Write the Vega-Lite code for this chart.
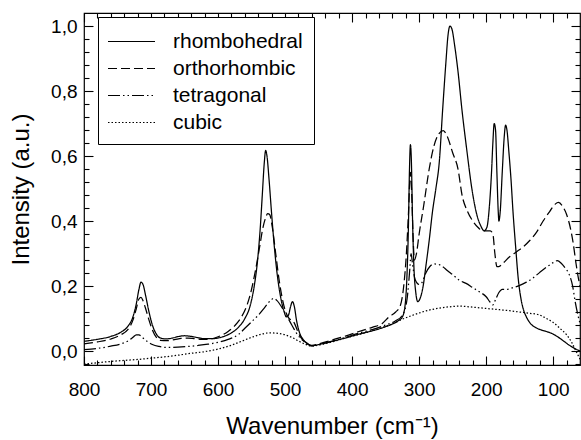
{
 "$schema": "https://vega.github.io/schema/vega-lite/v6.json",
 "width": 496, "height": 352,
 "autosize": {"type": "none"},
 "padding": {"left": 84, "top": 13, "right": 1, "bottom": 75},
 "config": {
  "view": {"stroke": "black", "strokeWidth": 1.2},
  "font": "Liberation Sans",
  "axis": {"domain": false, "grid": false, "tickColor": "black", "tickWidth": 1.1, "labelColor": "black", "labelFontSize": 19, "labelFont": "Liberation Sans", "titleFont": "Liberation Sans", "titleFontSize": 24, "titleFontWeight": "normal", "titleColor": "black", "labelOverlap": false, "labelFlush": false}
 },
 "datasets": {
  "raw": [
   {"p":"rhombohedral","d":[[800,0.030],[780,0.036],[760,0.045],[745,0.058],[735,0.075],[727,0.105],[722,0.145],[718,0.19],[715,0.212],[712,0.205],[708,0.17],[703,0.12],[698,0.08],[692,0.052],[686,0.040],[678,0.037],[668,0.040],[658,0.045],[650,0.047],[640,0.045],[630,0.041],[620,0.038],[610,0.038],[600,0.040],[590,0.046],[580,0.056],[570,0.072],[560,0.10],[552,0.14],[546,0.20],[541,0.28],[537,0.38],[534,0.48],[531,0.58],[529,0.617],[527,0.60],[524,0.53],[520,0.42],[516,0.32],[512,0.24],[507,0.17],[502,0.125],[498,0.105],[495,0.11],[492,0.135],[489,0.152],[486,0.135],[483,0.095],[479,0.06],[474,0.038],[468,0.025],[460,0.016],[450,0.020],[430,0.030],[410,0.040],[390,0.052],[370,0.062],[350,0.075],[340,0.083],[330,0.095],[325,0.105],[321,0.14],[318,0.24],[316,0.38],[314.5,0.55],[313,0.635],[311.5,0.58],[310,0.42],[308,0.27],[305,0.18],[302,0.152],[298,0.165],[294,0.20],[290,0.26],[285,0.34],[280,0.43],[275,0.50],[270,0.58],[265,0.74],[260,0.89],[257,0.97],[254,1.0],[251,0.99],[247,0.94],[242,0.86],[236,0.74],[229,0.62],[221,0.495],[214,0.42],[208,0.385],[203,0.37],[199,0.38],[195,0.45],[192,0.55],[190,0.64],[188,0.70],[186,0.68],[184,0.55],[182,0.43],[181,0.40],[179,0.43],[176,0.55],[173,0.66],[171,0.695],[169,0.68],[166,0.61],[163,0.53],[160,0.43],[156,0.32],[152,0.22],[148,0.16],[144,0.125],[140,0.105],[134,0.085],[126,0.072],[118,0.065],[110,0.060],[100,0.052],[92,0.042],[84,0.030],[76,0.018],[68,0.008],[60,0.0]]},
   {"p":"orthorhombic","d":[[800,0.022],[780,0.028],[760,0.037],[745,0.050],[735,0.065],[727,0.095],[722,0.13],[718,0.16],[715,0.165],[712,0.155],[708,0.13],[703,0.095],[698,0.065],[692,0.042],[686,0.033],[676,0.032],[665,0.035],[655,0.039],[645,0.040],[635,0.038],[625,0.036],[615,0.036],[605,0.040],[595,0.048],[585,0.06],[575,0.078],[565,0.105],[557,0.14],[550,0.19],[544,0.25],[538,0.32],[533,0.38],[529,0.41],[526,0.423],[523,0.42],[519,0.38],[514,0.30],[509,0.22],[504,0.16],[499,0.12],[494,0.10],[490,0.095],[486,0.085],[481,0.06],[476,0.04],[470,0.027],[460,0.017],[450,0.022],[430,0.034],[410,0.046],[390,0.060],[370,0.073],[355,0.085],[345,0.105],[335,0.12],[328,0.14],[323,0.20],[319,0.30],[316,0.42],[313,0.55],[311,0.48],[309,0.35],[307,0.28],[304,0.30],[300,0.36],[293,0.45],[285,0.56],[278,0.63],[270,0.67],[264,0.678],[258,0.66],[250,0.61],[242,0.56],[236,0.48],[228,0.43],[220,0.40],[212,0.38],[205,0.37],[199,0.37],[194,0.37],[190,0.36],[187,0.30],[184,0.26],[181,0.26],[175,0.27],[165,0.29],[155,0.305],[145,0.32],[135,0.34],[125,0.365],[115,0.40],[105,0.43],[97,0.452],[92,0.457],[86,0.445],[80,0.42],[74,0.375],[70,0.33],[66,0.27],[62,0.22],[60,0.20]]},
   {"p":"tetragonal","d":[[800,0.004],[780,0.008],[760,0.015],[745,0.022],[735,0.030],[727,0.042],[722,0.050],[718,0.050],[713,0.042],[706,0.030],[698,0.020],[688,0.014],[675,0.011],[660,0.012],[645,0.014],[630,0.017],[615,0.021],[600,0.027],[585,0.036],[570,0.05],[560,0.07],[550,0.09],[540,0.11],[530,0.135],[522,0.155],[517,0.162],[512,0.155],[505,0.135],[498,0.11],[490,0.08],[483,0.055],[476,0.037],[468,0.025],[460,0.016],[450,0.020],[430,0.030],[410,0.042],[390,0.055],[370,0.066],[350,0.080],[335,0.093],[325,0.11],[318,0.16],[314,0.25],[312,0.30],[310,0.27],[306,0.22],[300,0.205],[296,0.21],[290,0.24],[284,0.26],[278,0.268],[272,0.267],[265,0.26],[258,0.248],[250,0.235],[240,0.218],[230,0.208],[220,0.195],[210,0.182],[200,0.167],[194,0.15],[190,0.142],[186,0.158],[181,0.18],[176,0.19],[168,0.19],[160,0.195],[150,0.202],[140,0.212],[130,0.225],[120,0.242],[110,0.258],[100,0.272],[94,0.278],[88,0.27],[82,0.255],[76,0.235],[71,0.20],[67,0.15],[63,0.11],[60,0.085]]},
   {"p":"cubic","d":[[800,-0.040],[780,-0.036],[760,-0.032],[740,-0.029],[720,-0.026],[700,-0.022],[680,-0.018],[660,-0.013],[640,-0.007],[620,-0.002],[600,0.006],[580,0.018],[565,0.030],[550,0.042],[535,0.052],[522,0.056],[510,0.054],[500,0.050],[490,0.042],[480,0.031],[470,0.021],[460,0.015],[450,0.018],[430,0.028],[410,0.040],[390,0.051],[370,0.062],[350,0.076],[335,0.088],[325,0.098],[315,0.106],[300,0.117],[285,0.126],[270,0.132],[255,0.136],[240,0.138],[225,0.136],[210,0.133],[195,0.130],[180,0.127],[165,0.124],[150,0.120],[135,0.116],[122,0.112],[110,0.10],[100,0.088],[90,0.070],[80,0.050],[72,0.025],[66,0.0],[60,-0.025]]}
  ]
 },
 "data": {"name": "raw"},
 "transform": [
  {"flatten": ["d"]},
  {"calculate": "datum.d[0]", "as": "wn"},
  {"calculate": "datum.d[1]", "as": "I"}
 ],
 "layer": [
  {
   "mark": {"type": "line", "color": "black", "strokeWidth": 1.25, "interpolate": "monotone", "clip": true},
   "encoding": {
    "x": {"field": "wn", "type": "quantitative", "scale": {"domain": [60, 800], "reverse": true, "nice": false, "zero": false},
     "axis": {"orient": "bottom", "title": "Wavenumber (cm⁻¹)", "titlePadding": 11,
      "values": [800,780,760,740,720,700,680,660,640,620,600,580,560,540,520,500,480,460,440,420,400,380,360,340,320,300,280,260,240,220,200,180,160,140,120,100,80],
      "tickSize": {"condition": {"test": "datum.value % 100 === 0", "value": -9}, "value": -5},
      "labelPadding": 24,
      "labelExpr": "datum.value % 100 === 0 ? datum.label : ''"}},
    "y": {"field": "I", "type": "quantitative", "scale": {"domain": [-0.043, 1.04], "nice": false, "zero": false},
     "axis": {"orient": "left", "title": "Intensity (a.u.)", "titlePadding": 17,
      "values": [-0.04,0,0.04,0.08,0.12,0.16,0.2,0.24,0.28,0.32,0.36,0.4,0.44,0.48,0.52,0.56,0.6,0.64,0.68,0.72,0.76,0.8,0.84,0.88,0.92,0.96,1.0],
      "tickSize": {"condition": {"test": "abs(datum.value*5 - round(datum.value*5)) < 0.001", "value": -9}, "value": -5},
      "labelPadding": 16,
      "labelExpr": "abs(datum.value*5 - round(datum.value*5)) < 0.001 ? replace(format(datum.value, '.1f'), '.', ',') : ''"}},
    "strokeDash": {"field": "p", "type": "nominal",
     "scale": {"domain": ["rhombohedral", "orthorhombic", "tetragonal", "cubic"], "range": [[1, 0], [9, 4], [12, 3, 1.5, 3, 1.5, 3], [1.5, 2]]},
     "legend": {"orient": "none", "legendX": 14, "legendY": 4, "title": null, "strokeColor": "black", "fillColor": "white", "padding": 11, "symbolType": "M-1.88,0H1.88", "symbolFillColor": "transparent", "symbolStrokeColor": "black", "symbolStrokeWidth": 1.2, "symbolSize": 625, "labelFontSize": 21, "labelFont": "Liberation Sans", "labelColor": "black", "labelOffset": 37, "rowPadding": 3,
      "encode": {"symbols": {"update": {"x": {"value": 22.5}}}}}}
   }
  },
  {
   "mark": {"type": "line", "opacity": 0},
   "encoding": {
    "x": {"field": "wn", "type": "quantitative",
     "axis": {"orient": "top", "title": null, "labels": false,
      "values": [800,780,760,740,720,700,680,660,640,620,600,580,560,540,520,500,480,460,440,420,400,380,360,340,320,300,280,260,240,220,200,180,160,140,120,100,80],
      "tickSize": {"condition": {"test": "datum.value % 100 === 0", "value": -9}, "value": -5}}},
    "y": {"field": "I", "type": "quantitative",
     "axis": {"orient": "right", "title": null, "labels": false,
      "values": [-0.04,0,0.04,0.08,0.12,0.16,0.2,0.24,0.28,0.32,0.36,0.4,0.44,0.48,0.52,0.56,0.6,0.64,0.68,0.72,0.76,0.8,0.84,0.88,0.92,0.96,1.0],
      "tickSize": {"condition": {"test": "abs(datum.value*5 - round(datum.value*5)) < 0.001", "value": -9}, "value": -5}}},
    "detail": {"field": "p", "type": "nominal"}
   }
  }
 ],
 "resolve": {"axis": {"x": "independent", "y": "independent"}}
}
